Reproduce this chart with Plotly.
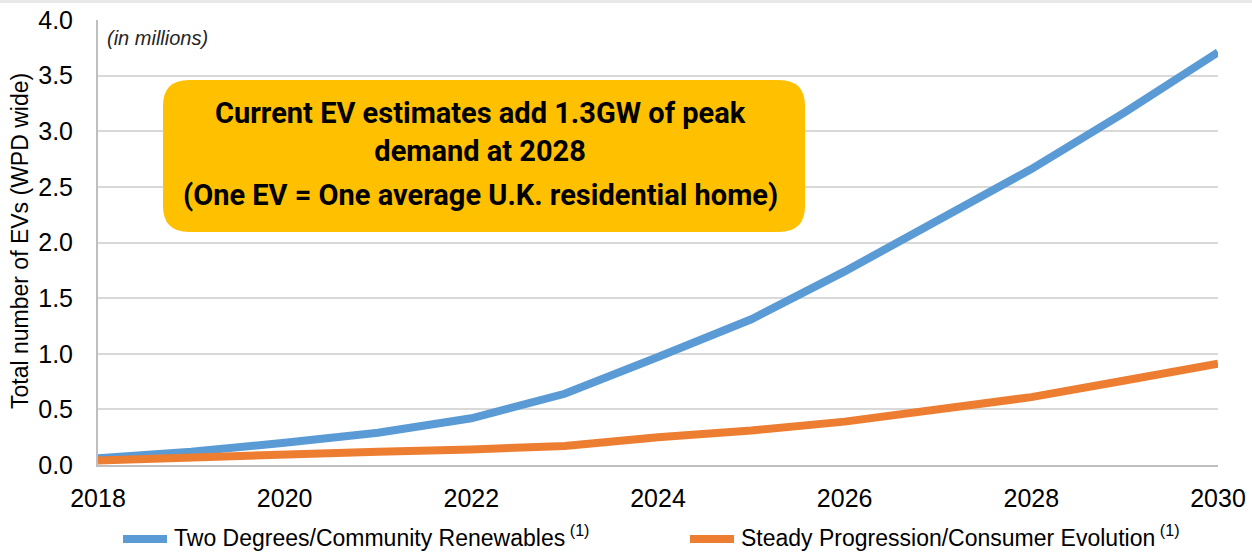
import plotly.graph_objects as go

years = list(range(2018, 2031))
two_degrees = [0.06, 0.12, 0.20, 0.29, 0.42, 0.64, 0.97, 1.31, 1.74, 2.19, 2.66, 3.17, 3.71]
steady = [0.04, 0.07, 0.09, 0.12, 0.14, 0.17, 0.25, 0.31, 0.39, 0.50, 0.61, 0.76, 0.91]
series_names = ["Two Degrees/Community Renewables",
                "Steady Progression/Consumer Evolution"]
colors = ["#5B9BD5", "#ED7D31"]
y_ticks = [0, 0.5, 1, 1.5, 2, 2.5, 3, 3.5, 4]

fig = go.Figure()
for name, vals, col in zip(series_names, [two_degrees, steady], colors):
    fig.add_trace(go.Scatter(x=years, y=vals, mode="lines", name=name,
                             line=dict(color=col, width=8)))

W, H = 1252, 553
L, R, T, B = 98, 34, 20, 88
pw, ph = W - L - R, H - T - B

def px2paper(x, y):
    return (x - L) / pw, 1 - (y - T) / ph

# rounded box
x0, y0, x1, y1, r = 163, 80, 805, 232, 26
def P(x, y):
    a, b = px2paper(x, y)
    return f"{a:.5f},{b:.5f}"
path = (f"M {P(x0+r,y0)} L {P(x1-r,y0)} Q {P(x1,y0)} {P(x1,y0+r)} "
        f"L {P(x1,y1-r)} Q {P(x1,y1)} {P(x1-r,y1)} L {P(x0+r,y1)} "
        f"Q {P(x0,y1)} {P(x0,y1-r)} L {P(x0,y0+r)} Q {P(x0,y0)} {P(x0+r,y0)} Z")
fig.add_shape(type="path", path=path, xref="paper", yref="paper",
              fillcolor="#FFC000", line=dict(width=0), layer="above")

# faint top border
fig.add_shape(type="line", xref="paper", yref="paper",
              x0=px2paper(0, 0)[0], x1=px2paper(W, 0)[0],
              y0=px2paper(0, 1.5)[1], y1=px2paper(0, 1.5)[1],
              line=dict(color="#E8E8E8", width=3))

bold_font = dict(family="Roboto, Liberation Sans, Arial", size=29, color="black")
cx = px2paper(480, 0)[0]
fig.add_annotation(x=cx, y=px2paper(0, 132)[1], xref="paper", yref="paper",
                   text="<b>Current EV estimates add 1.3GW of peak<br>demand at 2028</b>",
                   showarrow=False, font=bold_font, align="center", yanchor="middle")
fig.add_annotation(x=cx, y=px2paper(0, 195)[1], xref="paper", yref="paper",
                   text="<b>(One EV = One average U.K. residential home)</b>",
                   showarrow=False, font=bold_font, align="center", yanchor="middle")
fig.add_annotation(x=px2paper(105, 0)[0], y=px2paper(0, 38)[1], xref="paper", yref="paper",
                   text="<i>(in millions)</i>", showarrow=False, xanchor="left", yanchor="middle",
                   font=dict(family="Liberation Sans, Arial", size=20, color="#262626"))

# y axis title
fig.add_annotation(x=px2paper(20, 0)[0], y=px2paper(0, 241)[1], xref="paper", yref="paper",
                   text="Total number of EVs (WPD wide)", textangle=-90, showarrow=False,
                   xanchor="center", yanchor="middle",
                   font=dict(family="Liberation Sans, Arial", size=23, color="black"))

# manual legend
leg_y = 539
leg_items = [(123, 167, 172), (690, 734, 739)]
for (lx0, lx1, tx), name, col in zip(leg_items, series_names, colors):
    fig.add_shape(type="line", xref="paper", yref="paper",
                  x0=px2paper(lx0, 0)[0], x1=px2paper(lx1, 0)[0],
                  y0=px2paper(0, leg_y)[1], y1=px2paper(0, leg_y)[1],
                  line=dict(color=col, width=8))
    fig.add_annotation(x=px2paper(tx, 0)[0], y=px2paper(0, leg_y - 3)[1], xref="paper", yref="paper",
                       text=name + "\u2009<sup>(1)</sup>", showarrow=False, xanchor="left", yanchor="middle",
                       font=dict(family="Liberation Sans, Arial", size=23, color="black"))

fig.update_layout(
    width=W, height=H,
    margin=dict(l=L, r=R, t=T, b=B, autoexpand=False),
    plot_bgcolor="white", paper_bgcolor="white",
    font=dict(family="Liberation Sans, Arial", color="black"),
    showlegend=False,
    xaxis=dict(range=[2018, 2030], tickvals=list(range(2018, 2031, 2)),
               showgrid=False, showline=True, linecolor="#BFBFBF", linewidth=2,
               ticks="", ticklabelstandoff=10,
               tickfont=dict(size=25, color="black"), zeroline=False),
    yaxis=dict(range=[0, 4], tickvals=y_ticks, tickformat=".1f",
               showgrid=True, gridcolor="#D9D9D9", gridwidth=2,
               showline=True, linecolor="#BFBFBF", linewidth=2,
               ticks="", ticklabelstandoff=18,
               tickfont=dict(size=25, color="black"), zeroline=False),
)
fig.write_html("out.html", config={"displayModeBar": False},
               post_script="document.body.style.margin='0px';")
